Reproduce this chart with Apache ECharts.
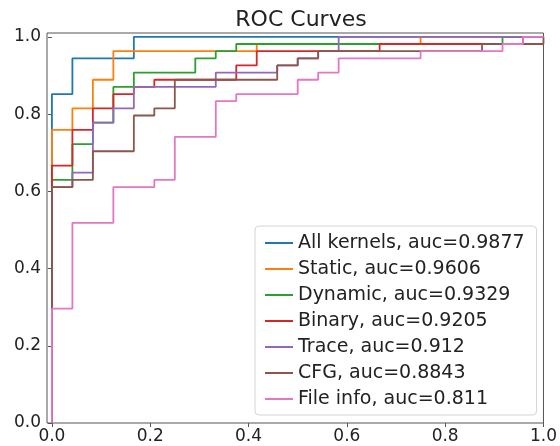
<!DOCTYPE html>
<html lang="en">
<head>
    <meta charset="UTF-8">
    <title>ROC Curves</title>
    <script src="https://cdn.jsdelivr.net/npm/echarts@6/dist/echarts.min.js"></script>
    <style>
        html, body { margin: 0; padding: 0; background: #fff; }
    </style>
</head>
<body>
<div id="roc" style="width: 560px; height: 446px;"></div>
<script type="text/javascript">
    // ROC vertices as [false positives, true positives] counts
    var N_NEG = 24;
    var N_POS = 54;

    var names = ['All kernels, auc=0.9877', 'Static, auc=0.9606', 'Dynamic, auc=0.9329',
        'Binary, auc=0.9205', 'Trace, auc=0.912', 'CFG, auc=0.8843', 'File info, auc=0.811'];
    var colors = ['#1f77b4', '#ff7f0e', '#2ca02c', '#d62728', '#9467bd', '#8c564b', '#e377c2'];

    var allKernels = [[0, 0], [0, 46], [1, 51], [4, 54], [24, 54]];
    var staticRoc = [[0, 0], [0, 41], [1, 44], [2, 48], [3, 52], [10, 53], [18, 54], [24, 54]];
    var dynamicRoc = [[0, 0], [0, 34], [1, 39], [2, 42], [3, 47], [4, 49], [7, 51], [8, 52], [9, 53], [22, 54], [24, 54]];
    var binaryRoc = [[0, 0], [0, 36], [1, 41], [2, 44], [3, 46], [4, 47], [5, 48], [9, 50], [10, 52], [16, 53], [23, 54], [24, 54]];
    var traceRoc = [[0, 0], [0, 33], [1, 35], [2, 42], [3, 44], [4, 47], [8, 49], [11, 50], [12, 51], [13, 52], [14, 54], [24, 54]];
    var cfgRoc = [[0, 0], [0, 33], [1, 34], [2, 38], [4, 43], [5, 44], [6, 48], [11, 50], [12, 51], [13, 52], [21, 53], [24, 54]];
    var fileInfoRoc = [[0, 0], [0, 16], [1, 28], [3, 33], [5, 34], [6, 40], [8, 45], [9, 46], [12, 48], [13, 49], [14, 51], [18, 52], [22, 53], [23, 54], [24, 54]];

    var tickValues = [0, 0.2, 0.4, 0.6, 0.8, 1.0];

    var curves = [allKernels, staticRoc, dynamicRoc, binaryRoc, traceRoc, cfgRoc, fileInfoRoc];

    var myChart = echarts.init(document.getElementById('roc'), null, {renderer: 'canvas'});

    var series = [];
    for (var i = 0; i < curves.length; i++) {
        series.push({
            name: names[i],
            type: 'line',
            step: 'end',
            showSymbol: false,
            silent: true,
            color: colors[i],
            lineStyle: {width: 1.8, color: colors[i]},
            data: curves[i].map(function (p) {
                return [p[0] / N_NEG, p[1] / N_POS];
            })
        });
    }

    var font = 'DejaVu Sans';

    var option = {
        animation: false,
        backgroundColor: '#fff',
        title: {
            text: 'ROC Curves',
            left: 296,
            textAlign: 'center',
            top: 4,
            textStyle: {fontFamily: font, fontSize: 22, fontWeight: 'normal', color: '#222'}
        },
        grid: {
            left: 47,
            right: 15,
            top: 33,
            bottom: 23,
            show: true,
            borderColor: '#555',
            borderWidth: 1
        },
        legend: {
            orient: 'vertical',
            left: 255,
            top: 226,
            icon: 'rect',
            itemWidth: 28,
            itemHeight: 2,
            itemGap: 6,
            padding: [7, 12, 6, 10],
            backgroundColor: 'rgba(255,255,255,0.85)',
            borderColor: '#d4d4d4',
            borderWidth: 1,
            borderRadius: 4,
            textStyle: {fontFamily: font, fontSize: 19, color: '#222', lineHeight: 20},
            data: names
        },
        xAxis: {
            type: 'value',
            min: -0.01,
            max: 1.0,
            splitLine: {show: false},
            axisLine: {show: false},
            axisTick: {show: true, inside: false, length: 4, customValues: tickValues, lineStyle: {color: '#555'}},
            axisLabel: {
                customValues: tickValues,
                margin: 5,
                fontFamily: font,
                fontSize: 17,
                color: '#222',
                formatter: function (v) { return v.toFixed(1); }
            }
        },
        yAxis: {
            type: 'value',
            min: 0,
            max: 1.01,
            splitLine: {show: false},
            axisLine: {show: false},
            axisTick: {show: true, inside: false, length: 4, customValues: tickValues, lineStyle: {color: '#555'}},
            axisLabel: {
                customValues: tickValues,
                margin: 6,
                fontFamily: font,
                fontSize: 17,
                color: '#222',
                formatter: function (v) { return v.toFixed(1); }
            }
        },
        series: series
    };
    myChart.setOption(option);
</script>
</body>
</html>
